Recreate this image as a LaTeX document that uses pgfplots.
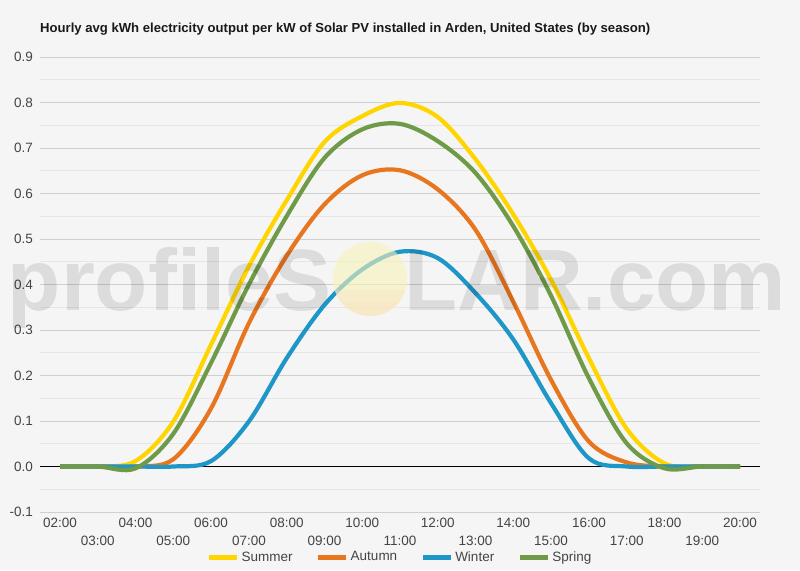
\documentclass[border=0pt]{standalone}
\usepackage{fontspec}
\setmainfont{Liberation Sans}
\usepackage{pgfplots}
\usepackage{pgfplotstable}
\pgfplotsset{compat=1.18}
\definecolor{bg}{HTML}{F5F5F5}
\definecolor{gridc}{HTML}{CFCFCF}
\definecolor{gridm}{HTML}{E6E6E6}
\definecolor{labelc}{HTML}{444444}
\definecolor{summer}{HTML}{FFD500}
\definecolor{autumn}{HTML}{E8761F}
\definecolor{winter}{HTML}{1E96C8}
\definecolor{spring}{HTML}{6F9A48}
\definecolor{sunc}{HTML}{F8F2B8}
\definecolor{sunb}{HTML}{FADFC0}
\pgfplotstableread{
h summer autumn winter spring
2 0 0 0 0
3 0 0 0 0
4 0.012 0 0 -0.004
5 0.099 0.016 0 0.072
6 0.268 0.128 0.012 0.228
7 0.44 0.315 0.099 0.40
8 0.585 0.463 0.238 0.55
9 0.713 0.576 0.355 0.678
10 0.77 0.64 0.433 0.741
11 0.799 0.651 0.472 0.753
12 0.768 0.609 0.458 0.715
13 0.675 0.52 0.381 0.645
14 0.554 0.362 0.279 0.528
15 0.41 0.19 0.139 0.375
16 0.238 0.055 0.018 0.194
17 0.083 0.009 0 0.051
18 0.007 0 0 -0.004
19 0 0 0 0
20 0 0 0 0
}\datatable
\begin{document}
\begin{tikzpicture}
\fill[bg] (0pt,0pt) rectangle (800pt,570pt);
\path[use as bounding box] (0pt,0pt) rectangle (800pt,570pt);
\begin{axis}[
  at={(40pt,58pt)}, anchor=south west,
  scale only axis, width=720pt, height=455pt,
  xmin=1.4706, xmax=20.5294, ymin=-0.1, ymax=0.9,
  axis line style={draw=none}, tick style={draw=none},
  major tick length=0pt, minor tick length=0pt,
  ytick={-0.1,0,0.1,0.2,0.3,0.4,0.5,0.6,0.7,0.8,0.9},
  yticklabels={-0.1,0.0,0.1,0.2,0.3,0.4,0.5,0.6,0.7,0.8,0.9},
  minor ytick={-0.05,0.05,0.15,0.25,0.35,0.45,0.55,0.65,0.75,0.85},
  ymajorgrids=true, yminorgrids=true,
  major grid style={color=gridc, line width=0.9pt},
  minor grid style={color=gridm, line width=0.8pt},
  yticklabel style={font=\fontsize{13.5}{16}\selectfont, text=labelc, anchor=east, xshift=-3.5pt},
  xtick={2,4,6,8,10,12,14,16,18,20},
  xticklabels={02:00,04:00,06:00,08:00,10:00,12:00,14:00,16:00,18:00,20:00},
  xticklabel style={font=\fontsize{13.5}{16}\selectfont, text=labelc, anchor=base, yshift=-15.5pt},
  extra x ticks={3,5,7,9,11,13,15,17,19},
  extra x tick labels={03:00,05:00,07:00,09:00,11:00,13:00,15:00,17:00,19:00},
  extra x tick style={xticklabel style={yshift=-18pt}},
  extra y ticks={0},
  extra y tick labels={},
  extra y tick style={ymajorgrids=true, major grid style={color=black, line width=0.9pt}},
  legend columns=4,
  legend style={at={(0.5,-0.099)}, anchor=center, draw=none, fill=none,
    font=\fontsize{13.5}{16}\selectfont, text=labelc,
    /tikz/every even column/.append style={column sep=21pt}},
  legend image code/.code={\draw[#1, line width=5pt, line cap=butt] (0pt,0pt) -- (28pt,0pt);},
  every axis plot/.append style={line width=4.2pt, smooth, tension=0.55, line join=round},
]
\addplot[summer] table[x=h, y=summer] {\datatable};
\addlegendentry{Summer}
\addplot[autumn] table[x=h, y=autumn] {\datatable};
\addlegendentry{Autumn}
\addplot[winter] table[x=h, y=winter] {\datatable};
\addlegendentry{Winter}
\addplot[spring] table[x=h, y=spring] {\datatable};
\addlegendentry{Spring}
\end{axis}
% watermark
\fill[sunc, fill opacity=0.6] (370pt,291pt) circle (37pt);
\begin{scope}
\clip (370pt,291pt) circle (37pt);
\fill[sunb, fill opacity=0.35] (330pt,254pt) rectangle (410pt,280pt);
\fill[sunb, fill opacity=0.25] (330pt,254pt) rectangle (410pt,268pt);
\end{scope}
\node[anchor=base east, inner sep=0pt, font=\bfseries\fontsize{87}{87}\selectfont, text=black, text opacity=0.1] at (332pt,259pt) {profileS};
\node[anchor=base west, inner sep=0pt, font=\bfseries\fontsize{87}{87}\selectfont, text=black, text opacity=0.1] at (404pt,259pt) {LAR.com};
% title
\node[anchor=base west, inner sep=0pt, font=\bfseries\fontsize{13.1}{15}\selectfont, text=black!90] at (40pt,537pt) {Hourly avg kWh electricity output per kW of Solar PV installed in Arden, United States (by season)};
\end{tikzpicture}
\end{document}
